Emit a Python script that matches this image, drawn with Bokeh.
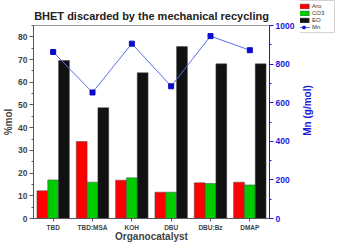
import math
from bokeh.plotting import figure
from bokeh.layouts import row
from bokeh.models import (FactorRange, Range1d, LinearAxis, SingleIntervalTicker,
                          ColumnDataSource, Legend, LegendItem, Label)
from bokeh.transform import dodge
from bokeh.embed import file_html
from bokeh.resources import INLINE

catalysts = ["TBD", "TBD:MSA", "KOH", "DBU", "DBU:Bz", "DMAP"]
aro = [12.2, 33.9, 16.9, 11.6, 15.7, 16.0]
co3 = [17.0, 16.0, 17.9, 11.6, 15.4, 14.8]
eo = [69.6, 48.8, 64.2, 75.7, 68.1, 68.1]
mn = [863, 653, 906, 685, 945, 872]

FONT = "Liberation Sans"
BLUE = "#1a1adb"
RED, GREEN, BLACK = "#ff0000", "#00cc00", "#111111"
LINEC, MARKC = "#5a6ee6", "#0a0acc"

src = ColumnDataSource(dict(cat=catalysts, aro=aro, co3=co3, eo=eo, mn=mn))

p = figure(width=300, height=244, x_range=FactorRange(*catalysts, range_padding=0),
           y_range=Range1d(0, 85), output_backend="svg", toolbar_location=None,
           min_border_left=27, min_border_right=31, min_border_top=25, min_border_bottom=20,
           title="BHET discarded by the mechanical recycling")
p.title.align = "center"
p.title.text_font = FONT
p.title.text_font_size = "11px"
p.title.text_font_style = "bold"
p.title.text_color = "#222222"
p.title.offset = 0
p.title.standoff = 7

p.grid.visible = False
p.outline_line_color = "#999999"
p.outline_line_width = 1

w = 0.275
lc = "#444444"
p.vbar(x=dodge("cat", -w, range=p.x_range), top="aro", width=w, source=src,
       fill_color=RED, line_color=lc, line_width=0.5)
p.vbar(x=dodge("cat", 0, range=p.x_range), top="co3", width=w, source=src,
       fill_color=GREEN, line_color=lc, line_width=0.5)
p.vbar(x=dodge("cat", w, range=p.x_range), top="eo", width=w, source=src,
       fill_color=BLACK, line_color=lc, line_width=0.5)

p.extra_y_ranges = {"mn": Range1d(0, 1000)}
p.line(x="cat", y="mn", source=src, y_range_name="mn", line_color=LINEC, line_width=1)
p.scatter(x="cat", y="mn", source=src, y_range_name="mn", marker="square", size=5,
          fill_color=MARKC, line_color=MARKC)

# left axis
ya = p.yaxis[0]
ya.ticker = SingleIntervalTicker(interval=10, num_minor_ticks=2)
ya.axis_label = "%mol"
ya.axis_label_text_font = FONT
ya.axis_label_text_font_size = "10px"
ya.axis_label_text_font_style = "bold"
ya.axis_label_standoff = 1
ya.major_label_text_font = FONT
ya.major_label_text_font_size = "8.5px"
ya.major_label_text_font_style = "bold"
ya.major_label_standoff = 2
ya.axis_line_color = "#555555"
ya.major_tick_line_color = "#555555"
ya.minor_tick_line_color = "#555555"
ya.major_tick_out = 4
ya.major_tick_in = 0
ya.minor_tick_out = 2
ya.minor_tick_in = 0

# bottom axis
xa = p.xaxis[0]
xa.axis_label = "Organocatalyst"
xa.axis_label_text_font = FONT
xa.axis_label_text_font_size = "10px"
xa.axis_label_text_font_style = "bold"
xa.axis_label_standoff = -3
xa.major_label_text_font = FONT
xa.major_label_text_font_size = "6.5px"
xa.major_label_text_font_style = "bold"
xa.major_label_standoff = 2
xa.axis_line_color = "#555555"
xa.major_tick_line_color = "#555555"
xa.major_tick_out = 3
xa.major_tick_in = 0

# right axis (its title is drawn in the side strip)
ra = LinearAxis(y_range_name="mn", ticker=SingleIntervalTicker(interval=200, num_minor_ticks=2))
ra.major_label_text_font = FONT
ra.major_label_text_font_size = "8.5px"
ra.major_label_text_font_style = "bold"
ra.major_label_text_color = BLUE
ra.major_label_standoff = 2
ra.axis_line_color = BLUE
ra.major_tick_line_color = BLUE
ra.minor_tick_line_color = BLUE
ra.major_tick_out = 4
ra.major_tick_in = 0
ra.minor_tick_out = 2
ra.minor_tick_in = 0
p.add_layout(ra, "right")

# side strip: legend and right axis title
p2 = figure(width=35, height=244, x_range=Range1d(2000, 2035), y_range=Range1d(2000, 2244),
            output_backend="svg", toolbar_location=None, min_border=0,
            x_axis_location=None, y_axis_location=None)
if "frame_align" in p2.properties():
    p2.frame_align = False
p2.grid.visible = False
p2.outline_line_color = None
# legend proxies share the chart data, drawn outside the strip's visible range
g_aro = p2.vbar(x="aro", top="aro", width=1, source=src, fill_color=RED, line_color=lc, line_width=0.5)
g_co3 = p2.vbar(x="co3", top="co3", width=1, source=src, fill_color=GREEN, line_color=lc, line_width=0.5)
g_eo = p2.vbar(x="eo", top="eo", width=1, source=src, fill_color=BLACK, line_color=lc, line_width=0.5)
g_ln = p2.line(x="aro", y="co3", source=src, line_color=LINEC, line_width=1)
g_pt = p2.scatter(x="aro", y="co3", source=src, marker="square", size=4,
                  fill_color=MARKC, line_color=MARKC)

legend = Legend(items=[LegendItem(label="Aro", renderers=[g_aro]),
                       LegendItem(label="CO3", renderers=[g_co3]),
                       LegendItem(label="EO", renderers=[g_eo]),
                       LegendItem(label="Mn", renderers=[g_ln, g_pt])],
                location="top_right")
legend.label_text_font = FONT
legend.label_text_font_size = "6px"
legend.label_text_color = "#333333"
legend.glyph_width = 13
legend.glyph_height = 6
legend.label_height = 6
legend.label_standoff = 2
legend.spacing = 1
legend.padding = 2
legend.margin = 0
legend.border_line_color = "#aaaaaa"
legend.border_line_width = 1
p2.add_layout(legend)

p2.add_layout(Label(x=2007, y=2134, text="Mn (g/mol)", angle=math.pi / 2,
                    text_align="center", text_baseline="middle",
                    text_font=FONT, text_font_size="10px", text_font_style="bold",
                    text_color=BLUE))

layout = row(p, p2)
open("out.html", "w").write(file_html(layout, INLINE))
